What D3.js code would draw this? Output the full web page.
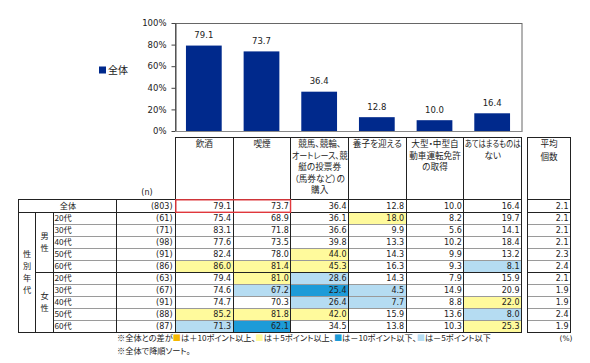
<!DOCTYPE html>
<html><head><meta charset="utf-8">
<script src="https://cdn.jsdelivr.net/npm/d3@7"></script>
<style>
body{margin:0;background:#fff}
svg{display:block}
.jp{font-family:"Noto Sans CJK JP",sans-serif;font-feature-settings:"palt";fill:#222}
.num{font-family:"DejaVu Sans",sans-serif;fill:#222}
</style></head><body><svg id="c" width="590" height="363"></svg>
<script>
// ---- data ----
const categories = ["飲酒","喫煙","競馬、競輪、オートレース、競艇の投票券（馬券など）の購入","養子を迎える","大型・中型自動車運転免許の取得","あてはまるものはない"];
const headerLines = [["飲酒"],["喫煙"],["競馬、競輪、","オートレース、競","艇の投票券","（馬券など）の","購入"],["養子を迎える"],["大型・中型自","動車運転免許","の取得"],["あてはまるものは","ない"]];
const totalValues = [79.1,73.7,36.4,12.8,10.0,16.4];
const totalN = 803;
const totalAvg = 2.1;
const yTicks = [0,20,40,60,80,100];
const genders = ["男性","女性"];
const rowGender = ["男性","男性","男性","男性","男性","女性","女性","女性","女性","女性"];
const rowAge = ["20代","30代","40代","50代","60代","20代","30代","40代","50代","60代"];
const rowN = [61,71,98,91,86,63,67,91,88,87];
const rowValues = [
  [75.4,68.9,36.1,18.0,8.2,19.7],
  [83.1,71.8,36.6,9.9,5.6,14.1],
  [77.6,73.5,39.8,13.3,10.2,18.4],
  [82.4,78.0,44.0,14.3,9.9,13.2],
  [86.0,81.4,45.3,16.3,9.3,8.1],
  [79.4,81.0,28.6,14.3,7.9,15.9],
  [74.6,67.2,25.4,4.5,14.9,20.9],
  [74.7,70.3,26.4,7.7,8.8,22.0],
  [85.2,81.8,42.0,15.9,13.6,8.0],
  [71.3,62.1,34.5,13.8,10.3,25.3]
];
const rowAvg = [2.1,2.1,2.1,2.3,2.4,2.1,1.9,1.9,2.4,1.9];
// highlight marks: 1 = +5pt, 2 = +10pt, -1 = -5pt, -2 = -10pt
const rowMarks = [
  [0,0,0,1,0,0],
  [0,0,0,0,0,0],
  [0,0,0,0,0,0],
  [0,0,1,0,0,0],
  [1,1,1,0,0,-1],
  [0,1,-1,0,0,0],
  [0,-1,-2,-1,0,0],
  [0,0,-1,-1,0,1],
  [1,1,1,0,0,-1],
  [-1,-2,0,0,0,1]
];
const markColors = {"1":"#FFFA9C","2":"#F5B800","-1":"#B5DCF2","-2":"#1D9BD8"};
const barColor = "#00298C";

// ---- layout ----
const svg = d3.select("#c");
const P = {left:175, right:521, top:23, bottom:131};
const x = d3.scaleBand().domain(categories).range([P.left,P.right]).paddingInner(0.38).paddingOuter(0.19);
const col = d3.scaleBand().domain(categories).range([P.left,P.right]).padding(0);
const y = d3.scaleLinear().domain([0,100]).range([P.bottom,P.top]);
const rowIdx = d3.range(rowAge.length);
const T = {left:18, gCol:35, aCol:53, nCol:116, headTop:137.5, headBot:199.5, totBot:212, bot:332};
const row = d3.scaleBand().domain(rowIdx).range([T.totBot,T.bot]).padding(0);
const A = {left:527, right:570};

// ---- chart ----
svg.append("rect").attr("x",P.left+0.5).attr("y",P.top+0.5).attr("width",P.right-P.left+0.5).attr("height",P.bottom-P.top)
  .attr("fill","none").attr("stroke","#666").attr("stroke-width",1);
svg.selectAll("rect.bar").data(categories).join("rect").attr("class","bar")
  .attr("x",d=>x(d)).attr("width",x.bandwidth())
  .attr("y",(d,i)=>y(totalValues[i])).attr("height",(d,i)=>y(0)-y(totalValues[i]))
  .attr("fill",barColor);
svg.selectAll("text.bl").data(categories).join("text").attr("class","bl num")
  .attr("x",d=>x(d)+x.bandwidth()/2).attr("y",(d,i)=>y(totalValues[i])-7.5)
  .attr("text-anchor","middle").attr("font-size",8.5)
  .text((d,i)=>totalValues[i].toFixed(1));
const ax = svg.append("g").attr("transform",`translate(${P.left+0.5},0)`)
  .call(d3.axisLeft(y).tickValues(yTicks).tickFormat(d=>d+"%").tickSize(4).tickSizeOuter(0).tickPadding(5));
ax.select(".domain").attr("stroke","#444");
ax.selectAll(".tick line").attr("stroke","#444");
ax.selectAll("text").attr("class","num").attr("font-size",8.5).attr("fill","#222").style("font-family","DejaVu Sans");
svg.append("line").attr("x1",P.left).attr("x2",P.right+1).attr("y1",P.bottom+0.5).attr("y2",P.bottom+0.5).attr("stroke","#888");
// legend
svg.append("rect").attr("x",99).attr("y",66.5).attr("width",7).attr("height",7).attr("fill",barColor);
svg.append("text").attr("class","jp").attr("x",108).attr("y",73.8).attr("font-size",10).text("全体");

// ---- table fills ----
rowIdx.forEach(r=>{
  categories.forEach((c,j)=>{
    const m = rowMarks[r][j];
    if(m!==0){
      svg.append("rect").attr("x",col(c)+0.5).attr("y",row(r)+0.5).attr("width",col.bandwidth()).attr("height",row.bandwidth())
        .attr("fill",markColors[String(m)]);
    }
  });
});

// ---- table lines ----
const L = svg.append("g").attr("shape-rendering","crispEdges");
function hl(x1,x2,yy,c){L.append("line").attr("x1",x1).attr("x2",x2).attr("y1",yy).attr("y2",yy).attr("stroke",c||"#222");}
function vl(xx,y1,y2,c){L.append("line").attr("x1",xx).attr("x2",xx).attr("y1",y1).attr("y2",y2).attr("stroke",c||"#222");}
rowIdx.forEach(r=>{
  if(r>0 && rowGender[r]===rowGender[r-1]){
    hl(T.aCol,P.right+0.5,row(r)+0.5,"#9a9a9a");
    hl(A.left,A.right,row(r)+0.5,"#9a9a9a");
  }
});
hl(P.left,P.right+0.5,T.headTop);
hl(T.left,P.right+0.5,T.headBot);
hl(T.left,P.right+0.5,T.totBot+0.5);
const split = rowGender.indexOf("女性");
hl(T.gCol,P.right+0.5,row(split)+0.5);
hl(T.left,P.right+0.5,T.bot+0.5);
vl(T.left+0.5,T.headBot,T.bot+0.5);
vl(T.gCol+0.5,T.totBot,T.bot+0.5);
vl(T.aCol+0.5,T.totBot,T.bot+0.5);
vl(T.nCol+0.5,T.headBot,T.bot+0.5);
categories.forEach(c=>vl(Math.round(col(c))+0.5,T.headTop,T.bot+0.5));
vl(P.right+0.5,T.headTop,T.bot+0.5);
hl(A.left,A.right+0.5,T.headTop);
hl(A.left,A.right+0.5,T.headBot);
hl(A.left,A.right+0.5,T.totBot+0.5);
hl(A.left,A.right+0.5,row(split)+0.5);
hl(A.left,A.right+0.5,T.bot+0.5);
vl(A.left+0.5,T.headTop,T.bot+0.5);
vl(A.right+0.5,T.headTop,T.bot+0.5);
svg.append("rect").attr("x",col(categories[0])+0.8).attr("y",T.headBot+0.3).attr("width",col.bandwidth()*2-0.6).attr("height",T.totBot-T.headBot)
  .attr("fill","none").attr("stroke","#E0383C").attr("stroke-width",1.4);

// ---- table texts ----
categories.forEach((c,j)=>{
  headerLines[j].forEach((ln,k)=>{
    const t = svg.append("text").attr("class","jp").attr("font-size",8.6).attr("text-anchor","middle")
      .attr("x",col(c)+col.bandwidth()/2+0.5).attr("y",147+k*11.6).text(ln);
    const w = t.node().getComputedTextLength();
    if(w>col.bandwidth()-2){t.attr("textLength",col.bandwidth()-2).attr("lengthAdjust","spacingAndGlyphs");}
  });
});
svg.append("text").attr("class","jp").attr("font-size",8.6).attr("text-anchor","middle").attr("x",(A.left+A.right)/2+0.5).attr("y",147).text("平均");
svg.append("text").attr("class","jp").attr("font-size",8.6).attr("text-anchor","middle").attr("x",(A.left+A.right)/2+0.5).attr("y",159.5).text("個数");
svg.append("text").attr("class","num").attr("font-size",8).attr("text-anchor","middle").attr("x",147).attr("y",195).text("(n)");

const tc = (T.headBot+T.totBot)/2+3.2;
svg.append("text").attr("class","jp").attr("font-size",8.2).attr("text-anchor","middle").attr("x",(T.left+T.nCol)/2+1).attr("y",tc).text("全体");
svg.append("text").attr("class","num").attr("font-size",8).attr("text-anchor","end").attr("x",T.nCol+56.5).attr("y",tc).text("("+totalN+")");
categories.forEach((c,j)=>{
  svg.append("text").attr("class","num").attr("font-size",8).attr("text-anchor","end").attr("x",col(c)+col.bandwidth()-1.5).attr("y",tc).text(totalValues[j].toFixed(1));
});
svg.append("text").attr("class","num").attr("font-size",8).attr("text-anchor","end").attr("x",A.right-1.5).attr("y",tc).text(totalAvg.toFixed(1));

rowIdx.forEach(r=>{
  const cy = row(r)+row.bandwidth()/2+3.2;
  svg.append("text").attr("class","jp").attr("font-size",8.2).attr("x",T.aCol+1.5).attr("y",cy).text(rowAge[r]);
  svg.append("text").attr("class","num").attr("font-size",8).attr("text-anchor","end").attr("x",T.nCol+56.5).attr("y",cy).text("("+rowN[r]+")");
  categories.forEach((c,j)=>{
    svg.append("text").attr("class","num").attr("font-size",8).attr("text-anchor","end").attr("x",col(c)+col.bandwidth()-1.5).attr("y",cy).text(rowValues[r][j].toFixed(1));
  });
  svg.append("text").attr("class","num").attr("font-size",8).attr("text-anchor","end").attr("x",A.right-1.5).attr("y",cy).text(rowAvg[r].toFixed(1));
});
genders.forEach(g=>{
  const rs = rowIdx.filter(r=>rowGender[r]===g);
  const mid = (row(rs[0]) + row(rs[rs.length-1])+row.bandwidth())/2;
  g.split("").forEach((ch,k)=>{
    svg.append("text").attr("class","jp").attr("font-size",8.2).attr("text-anchor","middle").attr("x",(T.gCol+T.aCol)/2+0.5)
      .attr("y",mid-6+k*12+3).text(ch);
  });
});
"性別年代".split("").forEach((ch,k)=>{
  const mid=(T.totBot+T.bot)/2;
  svg.append("text").attr("class","jp").attr("font-size",8.2).attr("text-anchor","middle").attr("x",(T.left+T.gCol)/2+0.5)
    .attr("y",mid-18+k*12+3).text(ch);
});

// ---- notes ----
const note = svg.append("text").attr("class","jp").attr("font-size",8.2).attr("x",T.nCol+1).attr("y",341);
const parts = [["※全体との差が",null],["■",markColors["2"]],["は＋10ポイント以上、",null],["■",markColors["1"]],["は＋5ポイント以上、",null],["■",markColors["-2"]],["は－10ポイント以下、",null],["■",markColors["-1"]],["は－5ポイント以下",null]];
parts.forEach(p=>{const t=note.append("tspan").text(p[0]); if(p[1]) t.style("fill",p[1]);});
svg.append("text").attr("class","jp").attr("font-size",8.2).attr("x",T.nCol+1).attr("y",354).text("※全体で降順ソート。");
svg.append("text").attr("class","num").attr("font-size",7.5).attr("text-anchor","middle").attr("x",566).attr("y",341).text("(%)");
</script></body></html>
